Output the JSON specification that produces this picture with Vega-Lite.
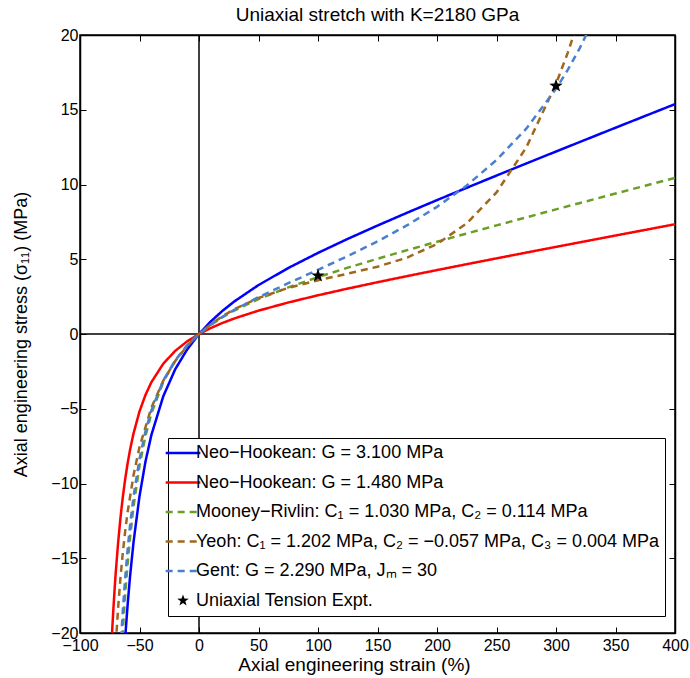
{
  "$schema": "https://vega.github.io/schema/vega-lite/v6.json",
  "width": 595,
  "height": 598,
  "autosize": {"type": "none"},
  "padding": {"left": 80, "top": 35, "right": 15, "bottom": 45},
  "background": "white",
  "title": {"text": "Uniaxial stretch with K=2180 GPa", "fontSize": 19, "fontWeight": "normal", "font": "Liberation Sans", "offset": 2, "color": "black"},
  "config": {
    "font": "Liberation Sans",
    "view": {"stroke": "black", "strokeWidth": 1.5},
    "axis": {
      "domainColor": "black", "domainWidth": 1.5,
      "tickColor": "black", "tickSize": -6, "tickWidth": 1,
      "labelColor": "black", "labelFontSize": 16, "labelFont": "Liberation Sans",
      "labelFlush": false, "labelOverlap": false,
      "titleColor": "black", "titleFontSize": 18, "titleFontWeight": "normal", "titleFont": "Liberation Sans",
      "grid": true, "gridColor": "#8a8a8a", "gridDash": [1, 3], "gridWidth": 1, "gridOpacity": 1
    },
    "axisX": {"labelPadding": 10, "titlePadding": 2, "titleFontSize": 19},
    "axisY": {"labelPadding": 8, "titlePadding": 20},
    "legend": {
      "orient": "none", "legendX": 88, "legendY": 403,
      "fillColor": "white", "strokeColor": "black", "padding": 6,
      "labelFontSize": 18, "labelFont": "Liberation Sans", "labelColor": "black", "labelLimit": 0, "labelOffset": 4,
      "symbolSize": 300, "symbolStrokeWidth": 2.5, "rowPadding": 11.5
    }
  },
  "datasets": {
    "curves": [
      {"s": "Neo−Hookean: G = 3.100 MPa", "x": -64, "y": -22.8},
      {"s": "Neo−Hookean: G = 3.100 MPa", "x": -62, "y": -20.29},
      {"s": "Neo−Hookean: G = 3.100 MPa", "x": -60, "y": -18.135},
      {"s": "Neo−Hookean: G = 3.100 MPa", "x": -58, "y": -16.27},
      {"s": "Neo−Hookean: G = 3.100 MPa", "x": -55, "y": -13.91},
      {"s": "Neo−Hookean: G = 3.100 MPa", "x": -50, "y": -10.85},
      {"s": "Neo−Hookean: G = 3.100 MPa", "x": -45, "y": -8.54},
      {"s": "Neo−Hookean: G = 3.100 MPa", "x": -40, "y": -6.75},
      {"s": "Neo−Hookean: G = 3.100 MPa", "x": -30, "y": -4.16},
      {"s": "Neo−Hookean: G = 3.100 MPa", "x": -20, "y": -2.36},
      {"s": "Neo−Hookean: G = 3.100 MPa", "x": -10, "y": -1.04},
      {"s": "Neo−Hookean: G = 3.100 MPa", "x": 0, "y": 0},
      {"s": "Neo−Hookean: G = 3.100 MPa", "x": 10, "y": 0.848},
      {"s": "Neo−Hookean: G = 3.100 MPa", "x": 20, "y": 1.567},
      {"s": "Neo−Hookean: G = 3.100 MPa", "x": 30, "y": 2.196},
      {"s": "Neo−Hookean: G = 3.100 MPa", "x": 50, "y": 3.272},
      {"s": "Neo−Hookean: G = 3.100 MPa", "x": 75, "y": 4.413},
      {"s": "Neo−Hookean: G = 3.100 MPa", "x": 100, "y": 5.425},
      {"s": "Neo−Hookean: G = 3.100 MPa", "x": 125, "y": 6.363},
      {"s": "Neo−Hookean: G = 3.100 MPa", "x": 150, "y": 7.254},
      {"s": "Neo−Hookean: G = 3.100 MPa", "x": 175, "y": 8.115},
      {"s": "Neo−Hookean: G = 3.100 MPa", "x": 200, "y": 8.956},
      {"s": "Neo−Hookean: G = 3.100 MPa", "x": 225, "y": 9.781},
      {"s": "Neo−Hookean: G = 3.100 MPa", "x": 250, "y": 10.597},
      {"s": "Neo−Hookean: G = 3.100 MPa", "x": 275, "y": 11.405},
      {"s": "Neo−Hookean: G = 3.100 MPa", "x": 300, "y": 12.206},
      {"s": "Neo−Hookean: G = 3.100 MPa", "x": 325, "y": 13.003},
      {"s": "Neo−Hookean: G = 3.100 MPa", "x": 350, "y": 13.797},
      {"s": "Neo−Hookean: G = 3.100 MPa", "x": 375, "y": 14.588},
      {"s": "Neo−Hookean: G = 3.100 MPa", "x": 400, "y": 15.376},

      {"s": "Neo−Hookean: G = 1.480 MPa", "x": -75, "y": -23.31},
      {"s": "Neo−Hookean: G = 1.480 MPa", "x": -74, "y": -21.51},
      {"s": "Neo−Hookean: G = 1.480 MPa", "x": -73, "y": -19.9},
      {"s": "Neo−Hookean: G = 1.480 MPa", "x": -72, "y": -18.46},
      {"s": "Neo−Hookean: G = 1.480 MPa", "x": -71, "y": -17.17},
      {"s": "Neo−Hookean: G = 1.480 MPa", "x": -70, "y": -16.0},
      {"s": "Neo−Hookean: G = 1.480 MPa", "x": -68, "y": -13.98},
      {"s": "Neo−Hookean: G = 1.480 MPa", "x": -66, "y": -12.3},
      {"s": "Neo−Hookean: G = 1.480 MPa", "x": -64, "y": -10.89},
      {"s": "Neo−Hookean: G = 1.480 MPa", "x": -62, "y": -9.687},
      {"s": "Neo−Hookean: G = 1.480 MPa", "x": -60, "y": -8.658},
      {"s": "Neo−Hookean: G = 1.480 MPa", "x": -58, "y": -7.769},
      {"s": "Neo−Hookean: G = 1.480 MPa", "x": -55, "y": -6.642},
      {"s": "Neo−Hookean: G = 1.480 MPa", "x": -50, "y": -5.18},
      {"s": "Neo−Hookean: G = 1.480 MPa", "x": -45, "y": -4.079},
      {"s": "Neo−Hookean: G = 1.480 MPa", "x": -40, "y": -3.223},
      {"s": "Neo−Hookean: G = 1.480 MPa", "x": -30, "y": -1.985},
      {"s": "Neo−Hookean: G = 1.480 MPa", "x": -20, "y": -1.129},
      {"s": "Neo−Hookean: G = 1.480 MPa", "x": -10, "y": -0.495},
      {"s": "Neo−Hookean: G = 1.480 MPa", "x": 0, "y": 0},
      {"s": "Neo−Hookean: G = 1.480 MPa", "x": 10, "y": 0.405},
      {"s": "Neo−Hookean: G = 1.480 MPa", "x": 20, "y": 0.748},
      {"s": "Neo−Hookean: G = 1.480 MPa", "x": 30, "y": 1.048},
      {"s": "Neo−Hookean: G = 1.480 MPa", "x": 50, "y": 1.562},
      {"s": "Neo−Hookean: G = 1.480 MPa", "x": 75, "y": 2.107},
      {"s": "Neo−Hookean: G = 1.480 MPa", "x": 100, "y": 2.59},
      {"s": "Neo−Hookean: G = 1.480 MPa", "x": 125, "y": 3.038},
      {"s": "Neo−Hookean: G = 1.480 MPa", "x": 150, "y": 3.463},
      {"s": "Neo−Hookean: G = 1.480 MPa", "x": 175, "y": 3.874},
      {"s": "Neo−Hookean: G = 1.480 MPa", "x": 200, "y": 4.276},
      {"s": "Neo−Hookean: G = 1.480 MPa", "x": 225, "y": 4.67},
      {"s": "Neo−Hookean: G = 1.480 MPa", "x": 250, "y": 5.059},
      {"s": "Neo−Hookean: G = 1.480 MPa", "x": 275, "y": 5.445},
      {"s": "Neo−Hookean: G = 1.480 MPa", "x": 300, "y": 5.828},
      {"s": "Neo−Hookean: G = 1.480 MPa", "x": 325, "y": 6.208},
      {"s": "Neo−Hookean: G = 1.480 MPa", "x": 350, "y": 6.587},
      {"s": "Neo−Hookean: G = 1.480 MPa", "x": 375, "y": 6.964},
      {"s": "Neo−Hookean: G = 1.480 MPa", "x": 400, "y": 7.341},

      {"s": "Mooney−Rivlin: C₁ = 1.030 MPa, C₂ = 0.114 MPa", "x": -66, "y": -22.69},
      {"s": "Mooney−Rivlin: C₁ = 1.030 MPa, C₂ = 0.114 MPa", "x": -64, "y": -19.81},
      {"s": "Mooney−Rivlin: C₁ = 1.030 MPa, C₂ = 0.114 MPa", "x": -62, "y": -17.41},
      {"s": "Mooney−Rivlin: C₁ = 1.030 MPa, C₂ = 0.114 MPa", "x": -60, "y": -15.39},
      {"s": "Mooney−Rivlin: C₁ = 1.030 MPa, C₂ = 0.114 MPa", "x": -58, "y": -13.66},
      {"s": "Mooney−Rivlin: C₁ = 1.030 MPa, C₂ = 0.114 MPa", "x": -55, "y": -11.52},
      {"s": "Mooney−Rivlin: C₁ = 1.030 MPa, C₂ = 0.114 MPa", "x": -50, "y": -8.806},
      {"s": "Mooney−Rivlin: C₁ = 1.030 MPa, C₂ = 0.114 MPa", "x": -45, "y": -6.82},
      {"s": "Mooney−Rivlin: C₁ = 1.030 MPa, C₂ = 0.114 MPa", "x": -40, "y": -5.314},
      {"s": "Mooney−Rivlin: C₁ = 1.030 MPa, C₂ = 0.114 MPa", "x": -30, "y": -3.199},
      {"s": "Mooney−Rivlin: C₁ = 1.030 MPa, C₂ = 0.114 MPa", "x": -20, "y": -1.788},
      {"s": "Mooney−Rivlin: C₁ = 1.030 MPa, C₂ = 0.114 MPa", "x": -10, "y": -0.774},
      {"s": "Mooney−Rivlin: C₁ = 1.030 MPa, C₂ = 0.114 MPa", "x": 0, "y": 0},
      {"s": "Mooney−Rivlin: C₁ = 1.030 MPa, C₂ = 0.114 MPa", "x": 10, "y": 0.62},
      {"s": "Mooney−Rivlin: C₁ = 1.030 MPa, C₂ = 0.114 MPa", "x": 20, "y": 1.138},
      {"s": "Mooney−Rivlin: C₁ = 1.030 MPa, C₂ = 0.114 MPa", "x": 30, "y": 1.583},
      {"s": "Mooney−Rivlin: C₁ = 1.030 MPa, C₂ = 0.114 MPa", "x": 50, "y": 2.335},
      {"s": "Mooney−Rivlin: C₁ = 1.030 MPa, C₂ = 0.114 MPa", "x": 75, "y": 3.118},
      {"s": "Mooney−Rivlin: C₁ = 1.030 MPa, C₂ = 0.114 MPa", "x": 100, "y": 3.805},
      {"s": "Mooney−Rivlin: C₁ = 1.030 MPa, C₂ = 0.114 MPa", "x": 125, "y": 4.436},
      {"s": "Mooney−Rivlin: C₁ = 1.030 MPa, C₂ = 0.114 MPa", "x": 150, "y": 5.034},
      {"s": "Mooney−Rivlin: C₁ = 1.030 MPa, C₂ = 0.114 MPa", "x": 175, "y": 5.61},
      {"s": "Mooney−Rivlin: C₁ = 1.030 MPa, C₂ = 0.114 MPa", "x": 200, "y": 6.171},
      {"s": "Mooney−Rivlin: C₁ = 1.030 MPa, C₂ = 0.114 MPa", "x": 225, "y": 6.721},
      {"s": "Mooney−Rivlin: C₁ = 1.030 MPa, C₂ = 0.114 MPa", "x": 250, "y": 7.264},
      {"s": "Mooney−Rivlin: C₁ = 1.030 MPa, C₂ = 0.114 MPa", "x": 275, "y": 7.802},
      {"s": "Mooney−Rivlin: C₁ = 1.030 MPa, C₂ = 0.114 MPa", "x": 300, "y": 8.336},
      {"s": "Mooney−Rivlin: C₁ = 1.030 MPa, C₂ = 0.114 MPa", "x": 325, "y": 8.866},
      {"s": "Mooney−Rivlin: C₁ = 1.030 MPa, C₂ = 0.114 MPa", "x": 350, "y": 9.394},
      {"s": "Mooney−Rivlin: C₁ = 1.030 MPa, C₂ = 0.114 MPa", "x": 375, "y": 9.92},
      {"s": "Mooney−Rivlin: C₁ = 1.030 MPa, C₂ = 0.114 MPa", "x": 400, "y": 10.444},

      {"s": "Yeoh: C₁ = 1.202 MPa, C₂ = −0.057 MPa, C₃ = 0.004 MPa", "x": -71, "y": -22.32},
      {"s": "Yeoh: C₁ = 1.202 MPa, C₂ = −0.057 MPa, C₃ = 0.004 MPa", "x": -70, "y": -20.85},
      {"s": "Yeoh: C₁ = 1.202 MPa, C₂ = −0.057 MPa, C₃ = 0.004 MPa", "x": -68, "y": -18.35},
      {"s": "Yeoh: C₁ = 1.202 MPa, C₂ = −0.057 MPa, C₃ = 0.004 MPa", "x": -66, "y": -16.31},
      {"s": "Yeoh: C₁ = 1.202 MPa, C₂ = −0.057 MPa, C₃ = 0.004 MPa", "x": -64, "y": -14.61},
      {"s": "Yeoh: C₁ = 1.202 MPa, C₂ = −0.057 MPa, C₃ = 0.004 MPa", "x": -62, "y": -13.17},
      {"s": "Yeoh: C₁ = 1.202 MPa, C₂ = −0.057 MPa, C₃ = 0.004 MPa", "x": -60, "y": -11.92},
      {"s": "Yeoh: C₁ = 1.202 MPa, C₂ = −0.057 MPa, C₃ = 0.004 MPa", "x": -55, "y": -9.433},
      {"s": "Yeoh: C₁ = 1.202 MPa, C₂ = −0.057 MPa, C₃ = 0.004 MPa", "x": -50, "y": -7.564},
      {"s": "Yeoh: C₁ = 1.202 MPa, C₂ = −0.057 MPa, C₃ = 0.004 MPa", "x": -40, "y": -4.92},
      {"s": "Yeoh: C₁ = 1.202 MPa, C₂ = −0.057 MPa, C₃ = 0.004 MPa", "x": -30, "y": -3.122},
      {"s": "Yeoh: C₁ = 1.202 MPa, C₂ = −0.057 MPa, C₃ = 0.004 MPa", "x": -20, "y": -1.809},
      {"s": "Yeoh: C₁ = 1.202 MPa, C₂ = −0.057 MPa, C₃ = 0.004 MPa", "x": -10, "y": -0.802},
      {"s": "Yeoh: C₁ = 1.202 MPa, C₂ = −0.057 MPa, C₃ = 0.004 MPa", "x": 0, "y": 0},
      {"s": "Yeoh: C₁ = 1.202 MPa, C₂ = −0.057 MPa, C₃ = 0.004 MPa", "x": 10, "y": 0.656},
      {"s": "Yeoh: C₁ = 1.202 MPa, C₂ = −0.057 MPa, C₃ = 0.004 MPa", "x": 20, "y": 1.203},
      {"s": "Yeoh: C₁ = 1.202 MPa, C₂ = −0.057 MPa, C₃ = 0.004 MPa", "x": 30, "y": 1.667},
      {"s": "Yeoh: C₁ = 1.202 MPa, C₂ = −0.057 MPa, C₃ = 0.004 MPa", "x": 50, "y": 2.407},
      {"s": "Yeoh: C₁ = 1.202 MPa, C₂ = −0.057 MPa, C₃ = 0.004 MPa", "x": 75, "y": 3.087},
      {"s": "Yeoh: C₁ = 1.202 MPa, C₂ = −0.057 MPa, C₃ = 0.004 MPa", "x": 100, "y": 3.598},
      {"s": "Yeoh: C₁ = 1.202 MPa, C₂ = −0.057 MPa, C₃ = 0.004 MPa", "x": 125, "y": 4.036},
      {"s": "Yeoh: C₁ = 1.202 MPa, C₂ = −0.057 MPa, C₃ = 0.004 MPa", "x": 150, "y": 4.501},
      {"s": "Yeoh: C₁ = 1.202 MPa, C₂ = −0.057 MPa, C₃ = 0.004 MPa", "x": 175, "y": 5.114},
      {"s": "Yeoh: C₁ = 1.202 MPa, C₂ = −0.057 MPa, C₃ = 0.004 MPa", "x": 200, "y": 6.021},
      {"s": "Yeoh: C₁ = 1.202 MPa, C₂ = −0.057 MPa, C₃ = 0.004 MPa", "x": 225, "y": 7.399},
      {"s": "Yeoh: C₁ = 1.202 MPa, C₂ = −0.057 MPa, C₃ = 0.004 MPa", "x": 250, "y": 9.466},
      {"s": "Yeoh: C₁ = 1.202 MPa, C₂ = −0.057 MPa, C₃ = 0.004 MPa", "x": 275, "y": 12.474},
      {"s": "Yeoh: C₁ = 1.202 MPa, C₂ = −0.057 MPa, C₃ = 0.004 MPa", "x": 300, "y": 16.72},
      {"s": "Yeoh: C₁ = 1.202 MPa, C₂ = −0.057 MPa, C₃ = 0.004 MPa", "x": 310, "y": 18.84},
      {"s": "Yeoh: C₁ = 1.202 MPa, C₂ = −0.057 MPa, C₃ = 0.004 MPa", "x": 320, "y": 21.24},

      {"s": "Gent: G = 2.290 MPa, Jₘ = 30", "x": -66, "y": -21.15},
      {"s": "Gent: G = 2.290 MPa, Jₘ = 30", "x": -65.5, "y": -20.44},
      {"s": "Gent: G = 2.290 MPa, Jₘ = 30", "x": -65, "y": -19.76},
      {"s": "Gent: G = 2.290 MPa, Jₘ = 30", "x": -64, "y": -18.5},
      {"s": "Gent: G = 2.290 MPa, Jₘ = 30", "x": -62, "y": -16.3},
      {"s": "Gent: G = 2.290 MPa, Jₘ = 30", "x": -60, "y": -14.436},
      {"s": "Gent: G = 2.290 MPa, Jₘ = 30", "x": -58, "y": -12.85},
      {"s": "Gent: G = 2.290 MPa, Jₘ = 30", "x": -55, "y": -10.87},
      {"s": "Gent: G = 2.290 MPa, Jₘ = 30", "x": -50, "y": -8.363},
      {"s": "Gent: G = 2.290 MPa, Jₘ = 30", "x": -45, "y": -6.515},
      {"s": "Gent: G = 2.290 MPa, Jₘ = 30", "x": -40, "y": -5.106},
      {"s": "Gent: G = 2.290 MPa, Jₘ = 30", "x": -30, "y": -3.107},
      {"s": "Gent: G = 2.290 MPa, Jₘ = 30", "x": -20, "y": -1.754},
      {"s": "Gent: G = 2.290 MPa, Jₘ = 30", "x": -10, "y": -0.767},
      {"s": "Gent: G = 2.290 MPa, Jₘ = 30", "x": 0, "y": 0},
      {"s": "Gent: G = 2.290 MPa, Jₘ = 30", "x": 10, "y": 0.627},
      {"s": "Gent: G = 2.290 MPa, Jₘ = 30", "x": 20, "y": 1.162},
      {"s": "Gent: G = 2.290 MPa, Jₘ = 30", "x": 30, "y": 1.635},
      {"s": "Gent: G = 2.290 MPa, Jₘ = 30", "x": 50, "y": 2.465},
      {"s": "Gent: G = 2.290 MPa, Jₘ = 30", "x": 75, "y": 3.396},
      {"s": "Gent: G = 2.290 MPa, Jₘ = 30", "x": 100, "y": 4.294},
      {"s": "Gent: G = 2.290 MPa, Jₘ = 30", "x": 125, "y": 5.213},
      {"s": "Gent: G = 2.290 MPa, Jₘ = 30", "x": 150, "y": 6.195},
      {"s": "Gent: G = 2.290 MPa, Jₘ = 30", "x": 175, "y": 7.278},
      {"s": "Gent: G = 2.290 MPa, Jₘ = 30", "x": 200, "y": 8.506},
      {"s": "Gent: G = 2.290 MPa, Jₘ = 30", "x": 225, "y": 9.933},
      {"s": "Gent: G = 2.290 MPa, Jₘ = 30", "x": 250, "y": 11.638},
      {"s": "Gent: G = 2.290 MPa, Jₘ = 30", "x": 275, "y": 13.733},
      {"s": "Gent: G = 2.290 MPa, Jₘ = 30", "x": 300, "y": 16.394},
      {"s": "Gent: G = 2.290 MPa, Jₘ = 30", "x": 310, "y": 17.678},
      {"s": "Gent: G = 2.290 MPa, Jₘ = 30", "x": 320, "y": 19.125},
      {"s": "Gent: G = 2.290 MPa, Jₘ = 30", "x": 330, "y": 20.77}
    ],
    "expt": [
      {"s": "Uniaxial Tension Expt.", "x": 100, "y": 3.9},
      {"s": "Uniaxial Tension Expt.", "x": 300, "y": 16.6}
    ],
    "zero": [{"v": 0}]
  },
  "layer": [
    {
      "data": {"name": "zero"},
      "mark": {"type": "rule", "color": "black", "strokeWidth": 1.5},
      "encoding": {"x": {"field": "v", "type": "quantitative", "axis": null}}
    },
    {
      "data": {"name": "zero"},
      "mark": {"type": "rule", "color": "black", "strokeWidth": 1.5},
      "encoding": {"y": {"field": "v", "type": "quantitative", "axis": null}}
    },
    {
      "data": {"name": "curves"},
      "mark": {"type": "line", "strokeWidth": 2.5, "clip": true},
      "encoding": {
        "x": {
          "field": "x", "type": "quantitative",
          "scale": {"domain": [-100, 400], "nice": false, "zero": false},
          "axis": {"title": "Axial engineering strain (%)", "titleX": 274, "values": [-100, -50, 0, 50, 100, 150, 200, 250, 300, 350, 400]}
        },
        "y": {
          "field": "y", "type": "quantitative",
          "scale": {"domain": [-20, 20], "nice": false, "zero": false},
          "axis": {"title": "Axial engineering stress (σ₁₁) (MPa)", "values": [-20, -15, -10, -5, 0, 5, 10, 15, 20]}
        },
        "color": {
          "field": "s", "type": "nominal",
          "scale": {
            "domain": ["Neo−Hookean: G = 3.100 MPa", "Neo−Hookean: G = 1.480 MPa", "Mooney−Rivlin: C₁ = 1.030 MPa, C₂ = 0.114 MPa", "Yeoh: C₁ = 1.202 MPa, C₂ = −0.057 MPa, C₃ = 0.004 MPa", "Gent: G = 2.290 MPa, Jₘ = 30", "Uniaxial Tension Expt."],
            "range": ["#0000ff", "#ff0000", "#6a9f26", "#a0681e", "#4a7fd0", "#000000"]
          },
          "legend": {
            "title": null,
            "encode": {
              "symbols": {
                "update": {
                  "shape": {"signal": "datum.value === 'Uniaxial Tension Expt.' ? 'M0,-0.7L0.165,-0.227L0.666,-0.216L0.266,0.087L0.412,0.566L0,0.28L-0.412,0.566L-0.266,0.087L-0.666,-0.216L-0.165,-0.227Z' : 'M-2,0H2'"},
                  "fill": {"signal": "datum.value === 'Uniaxial Tension Expt.' ? 'black' : 'transparent'"},
                  "strokeWidth": {"signal": "datum.value === 'Uniaxial Tension Expt.' ? 0 : 2.5"}
                }
              }
            }
          }
        },
        "strokeDash": {
          "field": "s", "type": "nominal",
          "scale": {
            "domain": ["Neo−Hookean: G = 3.100 MPa", "Neo−Hookean: G = 1.480 MPa", "Mooney−Rivlin: C₁ = 1.030 MPa, C₂ = 0.114 MPa", "Yeoh: C₁ = 1.202 MPa, C₂ = −0.057 MPa, C₃ = 0.004 MPa", "Gent: G = 2.290 MPa, Jₘ = 30", "Uniaxial Tension Expt."],
            "range": [[1, 0], [1, 0], [7, 5], [7, 5], [7, 5], [1, 0]]
          },
          "legend": {"title": null}
        }
      }
    },
    {
      "data": {"name": "expt"},
      "mark": {"type": "point", "shape": "M0,-1L0.235,-0.324L0.951,-0.309L0.38,0.124L0.588,0.809L0,0.4L-0.588,0.809L-0.38,0.124L-0.951,-0.309L-0.235,-0.324Z", "filled": true, "color": "black", "size": 200, "opacity": 1},
      "encoding": {
        "x": {"field": "x", "type": "quantitative", "axis": {"orient": "top", "labels": false, "title": null, "grid": false, "values": [-100, -50, 0, 50, 100, 150, 200, 250, 300, 350, 400]}},
        "y": {"field": "y", "type": "quantitative", "axis": {"orient": "right", "labels": false, "title": null, "grid": false, "values": [-20, -15, -10, -5, 0, 5, 10, 15, 20]}}
      }
    }
  ],
  "resolve": {"axis": {"x": "independent", "y": "independent"}}
}
